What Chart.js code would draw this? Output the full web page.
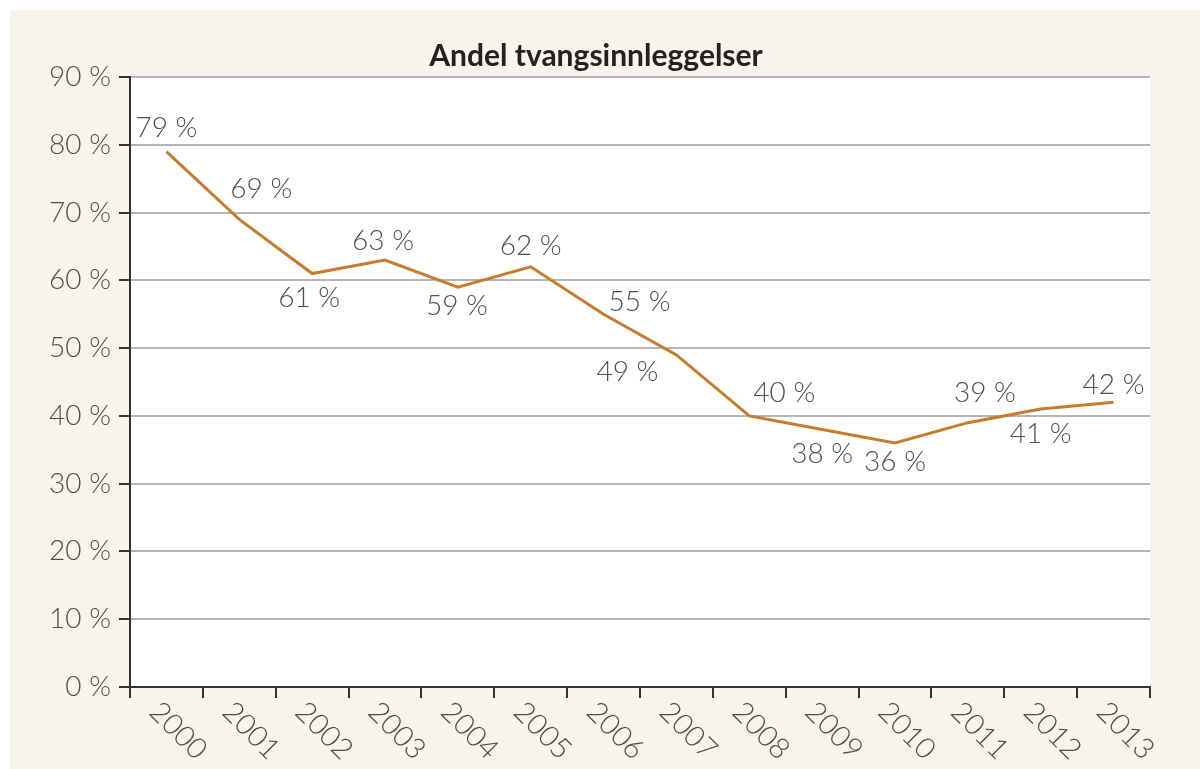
<!DOCTYPE html>
<html>
<head>
<meta charset="utf-8">
<script src="https://cdn.jsdelivr.net/npm/chart.js@4"></script>
<style>
  html, body { margin: 0; padding: 0; background: #fff; }
  #wrap { position: absolute; left: 10px; top: 10px; width: 1190px; height: 759px; background: #f8f4eb; }
</style>
</head>
<body>
<div id="wrap"><canvas id="chart"></canvas></div>
<script>
const years = ['2000', '2001', '2002', '2003', '2004', '2005', '2006', '2007', '2008', '2009', '2010', '2011', '2012', '2013'];
const share = [79, 69, 61, 63, 59, 62, 55, 49, 40, 38, 36, 39, 41, 42];
const yTicks = [0, 10, 20, 30, 40, 50, 60, 70, 80, 90];
const title = 'Andel tvangsinnleggelser';

// where each value label sits relative to its point
const labelDx = [0, 22, -3, -2, -1, 0, 36, -49, 35, 0, 0, 17, 0, 0];
const labelDy = [-24, -30, 24, -19, 19, -21, -12, 17, -23, 25, 19, -30, 25, -17];

const FONT = 'Lato, "Open Sans", sans-serif';
const TEXT = '#4f4f4f';

const plotBg = {
    id: 'plotBg',
    beforeDraw(chart) {
        const a = chart.chartArea;
        const ctx = chart.ctx;
        ctx.save();
        ctx.fillStyle = '#ffffff';
        ctx.fillRect(a.left, a.top, a.right - a.left, a.bottom - a.top);
        ctx.restore();
    }
};

// title sits a bit left of the plot centre, so it is drawn here
const titleText = {
    id: 'titleText',
    afterDraw(chart) {
        const ctx = chart.ctx;
        ctx.save();
        ctx.font = 'bold 30px ' + FONT;
        ctx.fillStyle = '#222';
        ctx.textAlign = 'center';
        ctx.textBaseline = 'middle';
        ctx.fillText(title, chart.width / 2 - 9, chart.chartArea.top - 21);
        ctx.restore();
    }
};

const valueLabels = {
    id: 'valueLabels',
    afterDatasetsDraw(chart) {
        const ctx = chart.ctx;
        const meta = chart.getDatasetMeta(0);
        ctx.save();
        ctx.font = '300 28px ' + FONT;
        ctx.fillStyle = TEXT;
        ctx.textAlign = 'center';
        ctx.textBaseline = 'middle';
        meta.data.forEach((pt, i) => {
            ctx.fillText(share[i] + ' %', pt.x + labelDx[i], pt.y + labelDy[i]);
        });
        ctx.restore();
    }
};

// x labels run down to the right, which the built-in rotation can't do
const slantedYears = {
    id: 'slantedYears',
    afterDraw(chart) {
        const ctx = chart.ctx;
        const x = chart.scales.x;
        ctx.save();
        ctx.font = '300 29px ' + FONT;
        ctx.fillStyle = TEXT;
        ctx.textAlign = 'left';
        ctx.textBaseline = 'middle';
        years.forEach((y, i) => {
            ctx.save();
            ctx.translate(x.getPixelForValue(i) - 12, x.top + 20);
            ctx.rotate(Math.PI / 4);
            ctx.fillText(y, 0, 0);
            ctx.restore();
        });
        ctx.restore();
    }
};

new Chart(document.getElementById('chart'), {
    type: 'line',
    data: {
        labels: years,
        datasets: [{
            data: share,
            borderColor: '#c87a2e',
            borderWidth: 3,
            pointRadius: 0,
            tension: 0,
            fill: false
        }]
    },
    options: {
        responsive: true,
        maintainAspectRatio: false,
        animation: false,
        layout: { padding: { top: 67, right: 50, bottom: 0, left: 0 } },
        plugins: {
            legend: { display: false },
            tooltip: { enabled: false },
            title: { display: false }
        },
        scales: {
            x: {
                offset: true,
                afterFit(scale) { scale.height = 82; },
                grid: {
                    offset: true,
                    drawOnChartArea: false,
                    color: '#333',
                    lineWidth: 2,
                    tickLength: 11
                },
                border: { color: '#333', width: 2 },
                ticks: { display: false }
            },
            y: {
                min: 0,
                max: 90,
                afterFit(scale) { scale.width = 120; },
                afterBuildTicks(scale) { scale.ticks = yTicks.map(v => ({ value: v })); },
                grid: {
                    color: '#b5b5b5',
                    lineWidth: 2,
                    tickColor: '#333',
                    tickLength: 11
                },
                border: { color: '#333', width: 2 },
                ticks: {
                    padding: 8,
                    color: TEXT,
                    font: { family: FONT, size: 28, weight: '300' },
                    callback: v => v + ' %'
                }
            }
        }
    },
    plugins: [plotBg, valueLabels, slantedYears, titleText]
});
</script>
</body>
</html>
